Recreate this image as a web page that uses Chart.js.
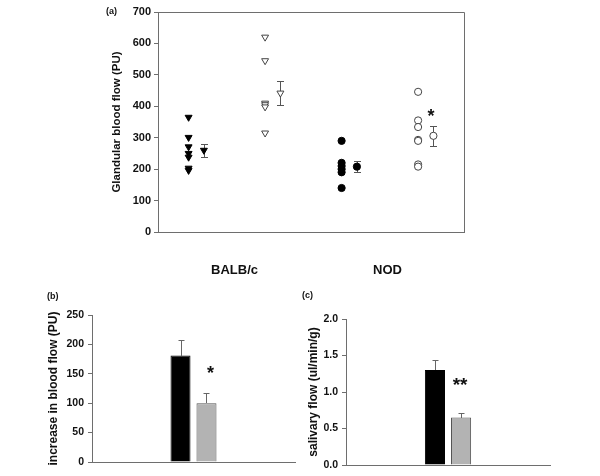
<!DOCTYPE html>
<html><head><meta charset="utf-8">
<script src="https://cdn.jsdelivr.net/npm/chart.js@4.4.1/dist/chart.umd.min.js"></script>
<style>
body{margin:0;background:#fff;}
#wrap{position:relative;width:600px;height:476px;overflow:hidden;}
canvas{position:absolute;left:0;top:0;}
.lbl{position:absolute;font:bold 9px "Liberation Sans",Arial,sans-serif;color:#111;line-height:11px;}
</style></head><body>
<div id="wrap">
<canvas id="ca" width="600" height="476"></canvas>
<canvas id="cb" width="600" height="476"></canvas>
<canvas id="cc" width="600" height="476"></canvas>
<div class="lbl" style="left:106px;top:6px">(a)</div>
<div class="lbl" style="left:47px;top:291px">(b)</div>
<div class="lbl" style="left:302px;top:290px">(c)</div>
</div>
<script>
// ---------- Panel (a) data ----------
const groupLabels = ['BALB/c', 'NOD'];
const balbFilled = [365, 301, 271, 250, 238, 203, 196];
const balbOpen = [620, 545, 410, 405, 398, 315];
const nodFilled = [290, 220, 210, 200, 190, 140];
const nodOpen = [446, 355, 334, 293, 290, 215, 208];
const groupMeans = [260, 442, 208, 306];
const groupSEM = [21, 39, 17, 31];
const sigA = [null, null, null, 383];      // asterisk height above group means
// category slot positions on the x axis (layout only)
const slotX = [0.4, 1.4, 2.4, 3.4];
const meanX = [0.6, 1.6, 2.6, 3.6];
const catTickX = [1.0, 3.0];

// ---------- Panel (b) data ----------
const barSeries = ['BALB/c', 'NOD'];
const bloodIncrease = [181, 100];
const bloodIncreaseSEM = [26, 17];
const sigB = [null, 158];

// ---------- Panel (c) data ----------
const salivaryFlow = [1.30, 0.65];
const salivaryFlowSEM = [0.135, 0.06];
const sigC = [null, 1.16];

const FONT = '"Liberation Sans", Arial, sans-serif';
const AXIS = '#6e6e6e';
const TXT = '#111';
Chart.defaults.font.family = FONT;
Chart.defaults.color = TXT;
Chart.defaults.animation = false;

function pts(xv, arr) { return arr.map(v => ({x: xv, y: v})); }

const pluginA = {
  id: 'pluginA',
  beforeDatasetsDraw(chart) {
    const {ctx, scales: {x, y}} = chart;
    ctx.save();
    ctx.strokeStyle = '#555';
    ctx.lineWidth = 1;
    groupMeans.forEach((m, i) => {
      const px = Math.round(x.getPixelForValue(meanX[i])) + 0.5;
      const t = Math.round(y.getPixelForValue(m + groupSEM[i])) + 0.5;
      const b = Math.round(y.getPixelForValue(m - groupSEM[i])) + 0.5;
      ctx.beginPath();
      ctx.moveTo(px, t); ctx.lineTo(px, b);
      ctx.moveTo(px - 3.5, t); ctx.lineTo(px + 3.5, t);
      ctx.moveTo(px - 3.5, b); ctx.lineTo(px + 3.5, b);
      ctx.stroke();
    });
    ctx.restore();
  },
  afterDraw(chart) {
    const {ctx, chartArea: a, scales: {x, y}} = chart;
    ctx.save();
    ctx.strokeStyle = AXIS;
    ctx.lineWidth = 1;
    ctx.beginPath();
    ctx.moveTo(Math.round(a.left) + 0.5, Math.round(a.top) + 0.5);
    ctx.lineTo(Math.round(a.right) + 0.5, Math.round(a.top) + 0.5);
    ctx.lineTo(Math.round(a.right) + 0.5, Math.round(a.bottom) + 0.5);
    ctx.stroke();
    ctx.fillStyle = TXT;
    ctx.font = 'bold 18px ' + FONT;
    ctx.textAlign = 'center';
    ctx.textBaseline = 'alphabetic';
    sigA.forEach((v, i) => {
      if (v == null) return;
      ctx.fillText('*', x.getPixelForValue(meanX[i] - 0.03), y.getPixelForValue(v) + 0.56 * 18);
    });
    ctx.restore();
  }
};

new Chart(document.getElementById('ca'), {
  type: 'scatter',
  data: {
    datasets: [
      {data: pts(slotX[0], balbFilled), pointStyle: 'triangle', rotation: 180, pointRadius: 4,
       backgroundColor: '#000', borderColor: '#000', borderWidth: 1},
      {data: pts(slotX[1], balbOpen), pointStyle: 'triangle', rotation: 180, pointRadius: 4,
       backgroundColor: '#fff', borderColor: '#444', borderWidth: 1},
      {data: pts(slotX[2], nodFilled), pointStyle: 'circle', pointRadius: 3.6,
       backgroundColor: '#000', borderColor: '#000', borderWidth: 1},
      {data: pts(slotX[3], nodOpen), pointStyle: 'circle', pointRadius: 3.6,
       backgroundColor: '#fff', borderColor: '#444', borderWidth: 1},
      {data: groupMeans.map((m, i) => ({x: meanX[i], y: m})),
       pointStyle: ['triangle', 'triangle', 'circle', 'circle'], rotation: [180, 180, 0, 0],
       pointRadius: [4, 4, 3.6, 3.6],
       backgroundColor: ['#000', '#fff', '#000', '#fff'], borderColor: ['#000', '#444', '#000', '#444'], borderWidth: 1}
    ]
  },
  options: {
    responsive: false,
    events: [],
    layout: {padding: {left: 110, top: 12, right: 136, bottom: 0}},
    plugins: {legend: {display: false}, tooltip: {enabled: false}},
    scales: {
      x: {
        type: 'linear', min: 0, max: 4,
        afterBuildTicks: ax => { ax.ticks = catTickX.map(v => ({value: v})); },
        afterFit: ax => { ax.height = 244; },
        ticks: {callback: (v, i) => groupLabels[i], font: {size: 13, weight: 'bold'}, color: TXT,
                padding: 23, maxRotation: 0, autoSkip: false},
        grid: {display: false},
        border: {display: true, color: AXIS}
      },
      y: {
        min: 0, max: 700,
        afterFit: ax => { ax.width = 48; },
        ticks: {stepSize: 100, font: {size: 11, weight: 'bold'}, color: TXT, padding: 3},
        grid: {display: true, drawOnChartArea: false, drawTicks: true, tickLength: 4, color: AXIS},
        border: {display: true, color: AXIS},
        title: {display: true, text: 'Glandular blood flow (PU)', font: {size: 11.5, weight: 'bold'},
                color: TXT, padding: 0}
      }
    }
  },
  plugins: [pluginA]
});

function barPlugin(id, sems, sig, starText, starSize, starDx) {
  return {
    id,
    afterDatasetsDraw(chart) {
      const {ctx, scales: {y}} = chart;
      ctx.save();
      ctx.strokeStyle = '#666';
      ctx.lineWidth = 1;
      chart.data.datasets.forEach((ds, i) => {
        const el = chart.getDatasetMeta(i).data[0];
        const px = Math.round(el.x) + 0.5;
        const t = Math.round(y.getPixelForValue(ds.data[0] + sems[i])) + 0.5;
        ctx.beginPath();
        ctx.moveTo(px, Math.round(el.y));
        ctx.lineTo(px, t);
        ctx.moveTo(px - 3, t); ctx.lineTo(px + 3, t);
        ctx.stroke();
      });
      ctx.fillStyle = TXT;
      ctx.font = 'bold ' + starSize + 'px ' + FONT;
      ctx.textAlign = 'center';
      ctx.textBaseline = 'alphabetic';
      sig.forEach((v, i) => {
        if (v == null) return;
        const el = chart.getDatasetMeta(i).data[0];
        ctx.fillText(starText, el.x + starDx, y.getPixelForValue(v) + 0.56 * starSize);
      });
      ctx.restore();
    }
  };
}

function barChart(id, values, pad, yWidth, xHeight, yOpts, title, sems, sig, starText, starSize, starDx) {
  new Chart(document.getElementById(id), {
    type: 'bar',
    data: {
      labels: [''],
      datasets: barSeries.map((s, i) => ({
        label: s, data: [values[i]],
        backgroundColor: i ? '#b3b3b3' : '#000',
        borderColor: i ? '#555' : '#000', borderWidth: 1,
        categoryPercentage: 0.256, barPercentage: 0.77
      }))
    },
    options: {
      responsive: false,
      events: [],
      layout: {padding: pad},
      plugins: {legend: {display: false}, tooltip: {enabled: false}},
      scales: {
        x: {
          afterFit: ax => { ax.height = xHeight; },
          ticks: {display: false},
          grid: {display: false},
          border: {display: true, color: AXIS}
        },
        y: Object.assign({
          afterFit: ax => { ax.width = yWidth; },
          grid: {display: true, drawOnChartArea: false, drawTicks: true, tickLength: 4, color: AXIS},
          border: {display: true, color: AXIS},
          title: {display: true, text: title, font: {size: 12, weight: 'bold'}, color: TXT, padding: 0}
        }, yOpts)
      }
    },
    plugins: [barPlugin(id + 'p', sems, sig, starText, starSize, starDx)]
  });
}

barChart('cb', bloodIncrease, {left: 46, top: 315, right: 305, bottom: 0}, 46, 14,
  {min: 0, max: 250, ticks: {stepSize: 50, font: {size: 10.5, weight: 'bold'}, color: TXT, padding: 4}},
  'increase in blood flow (PU)', bloodIncreaseSEM, sigB, '*', 18, 4);

barChart('cc', salivaryFlow, {left: 306, top: 319, right: 50, bottom: 0}, 40, 11,
  {min: 0, max: 2, ticks: {stepSize: 0.5, font: {size: 10.5, weight: 'bold'}, color: TXT, padding: 4,
    callback: v => v.toFixed(1)}},
  'salivary flow (ul/min/g)', salivaryFlowSEM, sigC, '**', 19, -1);
</script>
</body></html>
